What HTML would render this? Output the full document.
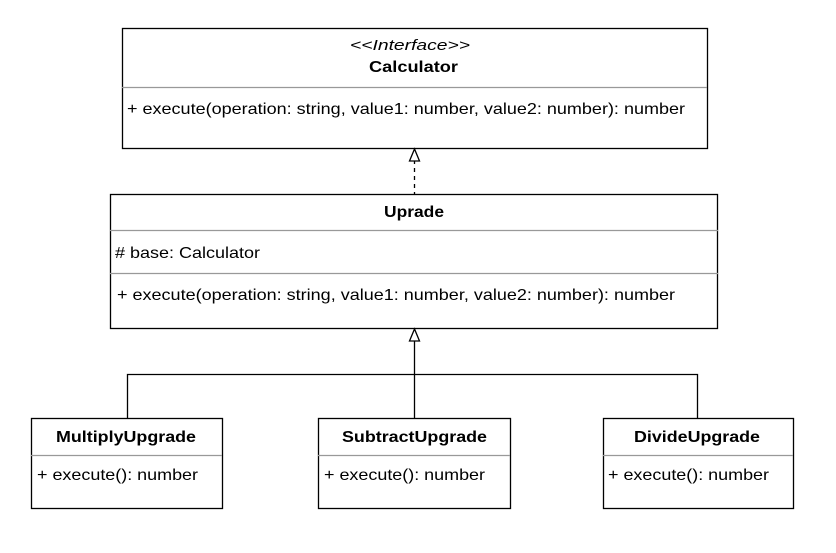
<!DOCTYPE html>
<html><head><style>html,body{margin:0;padding:0;background:#fff}</style></head>
<body>
<svg width="836" height="548" xmlns="http://www.w3.org/2000/svg" font-family="Liberation Sans, Arial, sans-serif" font-size="16">
<rect x="0" y="0" width="836" height="548" fill="#fff"/>
<!-- Calculator -->
<rect x="122.5" y="28.5" width="585" height="120" fill="#fff" stroke="#000" stroke-width="1.3"/>
<line x1="122" y1="87.5" x2="707" y2="87.5" stroke="#999" stroke-width="1.2"/>
<text x="350" y="50" font-style="italic" font-size="15" textLength="120" lengthAdjust="spacingAndGlyphs">&lt;&lt;Interface&gt;&gt;</text>
<text x="369" y="72" font-weight="bold" textLength="89" lengthAdjust="spacingAndGlyphs">Calculator</text>
<text x="127" y="114" textLength="558" lengthAdjust="spacingAndGlyphs">+ execute(operation: string, value1: number, value2: number): number</text>
<!-- dashed realization -->
<line x1="414.5" y1="160" x2="414.5" y2="194" stroke="#000" stroke-width="1.3" stroke-dasharray="4,4"/>
<polygon points="414.5,149 409.5,161 419.5,161" fill="#fff" stroke="#000" stroke-width="1.3"/>
<!-- Uprade -->
<rect x="110.5" y="194.5" width="607" height="134" fill="#fff" stroke="#000" stroke-width="1.3"/>
<line x1="110" y1="230.5" x2="718" y2="230.5" stroke="#999" stroke-width="1.2"/>
<line x1="110" y1="273.5" x2="718" y2="273.5" stroke="#999" stroke-width="1.2"/>
<text x="384" y="217" font-weight="bold" textLength="60" lengthAdjust="spacingAndGlyphs">Uprade</text>
<text x="115" y="258" textLength="145" lengthAdjust="spacingAndGlyphs"># base: Calculator</text>
<text x="117" y="300" textLength="558" lengthAdjust="spacingAndGlyphs">+ execute(operation: string, value1: number, value2: number): number</text>
<!-- generalization -->
<polyline points="127.5,418 127.5,374.5 697.5,374.5 697.5,418" fill="none" stroke="#000" stroke-width="1.3"/>
<line x1="414.5" y1="341" x2="414.5" y2="418" stroke="#000" stroke-width="1.3"/>
<polygon points="414.5,329 409.5,341 419.5,341" fill="#fff" stroke="#000" stroke-width="1.3"/>
<!-- bottom boxes -->
<rect x="31.5" y="418.5" width="191" height="90" fill="#fff" stroke="#000" stroke-width="1.3"/>
<line x1="31" y1="455.5" x2="222" y2="455.5" stroke="#999" stroke-width="1.2"/>
<text x="56" y="442" font-weight="bold" textLength="140" lengthAdjust="spacingAndGlyphs">MultiplyUpgrade</text>
<text x="37" y="480" textLength="161" lengthAdjust="spacingAndGlyphs">+ execute(): number</text>
<rect x="318.5" y="418.5" width="192" height="90" fill="#fff" stroke="#000" stroke-width="1.3"/>
<line x1="318" y1="455.5" x2="510" y2="455.5" stroke="#999" stroke-width="1.2"/>
<text x="342" y="442" font-weight="bold" textLength="145" lengthAdjust="spacingAndGlyphs">SubtractUpgrade</text>
<text x="324" y="480" textLength="161" lengthAdjust="spacingAndGlyphs">+ execute(): number</text>
<rect x="603.5" y="418.5" width="190" height="90" fill="#fff" stroke="#000" stroke-width="1.3"/>
<line x1="603" y1="455.5" x2="793" y2="455.5" stroke="#999" stroke-width="1.2"/>
<text x="634" y="442" font-weight="bold" textLength="126" lengthAdjust="spacingAndGlyphs">DivideUpgrade</text>
<text x="608" y="480" textLength="161" lengthAdjust="spacingAndGlyphs">+ execute(): number</text>
</svg>
</body></html>
